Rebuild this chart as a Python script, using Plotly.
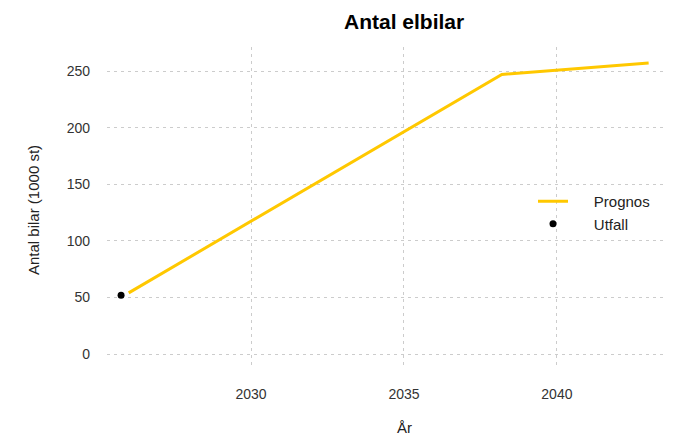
import plotly.graph_objects as go

# Data
prognos_years = [2026, 2038.2, 2043]
prognos_values = [54, 247, 257]
utfall_years = [2025.75]
utfall_values = [52]

x_ticks = [2030, 2035, 2040]
y_ticks = [0, 50, 100, 150, 200, 250]

FONT = "Liberation Sans, Arial, sans-serif"
NB = "\u00a0"

W, H = 692, 436
PX0, PX1, PY0, PY1 = 107, 667, 47, 366  # plot area in pixels
L, R, T, B = PX0, W - PX1, PY0, H - PY1
PW, PH = PX1 - PX0, PY1 - PY0


def xp(px):
    return (px - PX0) / PW


def yp(py):
    return (PY1 - py) / PH


fig = go.Figure()
fig.add_trace(go.Scatter(
    x=prognos_years, y=prognos_values, mode="lines", name=NB * 5 + "Prognos",
    line=dict(color="#FFC800", width=3)))
fig.add_trace(go.Scatter(
    x=utfall_years, y=utfall_values, mode="markers", name=NB * 5 + "Utfall",
    marker=dict(color="black", size=7)))

fig.update_layout(
    width=W, height=H,
    margin=dict(l=L, r=R, t=T, b=B, autoexpand=False),
    paper_bgcolor="white", plot_bgcolor="white",
    font=dict(family=FONT, size=14, color="#333333"),
    showlegend=True,
    legend=dict(x=xp(533), y=yp(185), xanchor="left", yanchor="top",
                bgcolor="rgba(0,0,0,0)", font=dict(size=15, color="#222222"),
                tracegroupgap=0),
    annotations=[
        dict(text="<b>Antal elbilar</b>", xref="paper", yref="paper",
             x=xp(404), y=yp(22), yanchor="middle",
             xanchor="center", showarrow=False,
             font=dict(size=21, color="black", family=FONT)),
        dict(text="År", xref="paper", yref="paper",
             x=xp(404), y=yp(427), yanchor="middle",
             xanchor="center", showarrow=False,
             font=dict(size=15, color="#222222", family=FONT)),
        dict(text="Antal bilar (1000 st)", xref="paper", yref="paper",
             x=xp(33), y=yp(210), yanchor="middle",
             xanchor="center", showarrow=False, textangle=-90,
             font=dict(size=15, color="#222222", family=FONT)),
    ],
)
fig.update_xaxes(
    range=[2025.29, 2043.6], tickvals=x_ticks, ticktext=[str(v) for v in x_ticks],
    showgrid=True, gridcolor="#cccccc", griddash="3px,4px", gridwidth=1,
    zeroline=False, showline=False, ticks="", ticklabelstandoff=18,
    automargin=False)
fig.update_yaxes(
    range=[-10.6, 271.2], tickvals=y_ticks,
    showgrid=True, gridcolor="#cccccc", griddash="3px,4px", gridwidth=1,
    zeroline=False, showline=False, ticks="", ticklabelstandoff=16,
    automargin=False)

fig.write_html(
    "out.html",
    config={"displayModeBar": False},
    post_script="document.body.style.margin='0';document.body.style.overflow='hidden';",
)
